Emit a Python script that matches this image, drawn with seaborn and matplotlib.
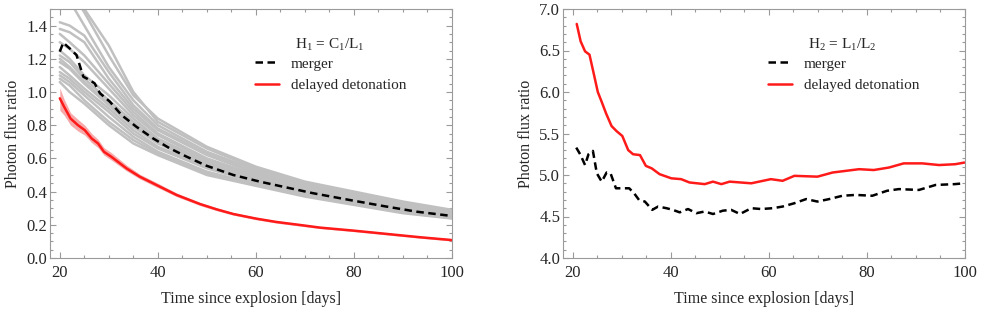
import pandas as pd
import seaborn as sns
from matplotlib import pyplot as plt
from matplotlib.ticker import MultipleLocator

# ---- left panel: H1 = C1/L1 ----
grid_days = [20, 22, 25, 30, 35, 40, 50, 60, 70, 80, 90, 100]
model_curves = [
    [1.75, 1.62, 1.48, 1.22, 0.98, 0.84, 0.67, 0.55, 0.46, 0.40, 0.34, 0.29],
    [1.70, 1.58, 1.50, 1.28, 1.00, 0.82, 0.66, 0.54, 0.45, 0.39, 0.33, 0.285],
    [1.65, 1.55, 1.40, 1.15, 0.95, 0.80, 0.64, 0.53, 0.45, 0.385, 0.33, 0.28],
    [1.42, 1.40, 1.34, 1.12, 0.92, 0.78, 0.63, 0.52, 0.44, 0.38, 0.325, 0.28],
    [1.38, 1.36, 1.30, 1.08, 0.90, 0.77, 0.62, 0.51, 0.43, 0.37, 0.32, 0.275],
    [1.35, 1.30, 1.22, 1.05, 0.88, 0.75, 0.60, 0.50, 0.42, 0.365, 0.315, 0.27],
    [1.30, 1.26, 1.18, 1.02, 0.86, 0.74, 0.59, 0.49, 0.415, 0.36, 0.31, 0.27],
    [1.25, 1.20, 1.10, 0.98, 0.84, 0.72, 0.58, 0.485, 0.41, 0.355, 0.305, 0.265],
    [1.22, 1.18, 1.08, 0.95, 0.82, 0.71, 0.57, 0.48, 0.405, 0.35, 0.30, 0.26],
    [1.18, 1.14, 1.05, 0.92, 0.79, 0.69, 0.56, 0.47, 0.40, 0.345, 0.295, 0.255],
    [1.15, 1.10, 1.02, 0.90, 0.77, 0.67, 0.55, 0.46, 0.39, 0.34, 0.29, 0.25],
    [1.12, 1.08, 1.00, 0.88, 0.75, 0.66, 0.54, 0.455, 0.385, 0.335, 0.285, 0.25],
    [1.10, 1.06, 0.98, 0.85, 0.73, 0.64, 0.52, 0.445, 0.38, 0.33, 0.28, 0.245],
    [1.08, 1.04, 0.95, 0.82, 0.71, 0.63, 0.51, 0.44, 0.375, 0.325, 0.275, 0.24],
    [1.06, 1.00, 0.93, 0.80, 0.69, 0.62, 0.50, 0.435, 0.37, 0.32, 0.27, 0.238],
    [1.20, 1.15, 1.06, 0.93, 0.80, 0.70, 0.565, 0.475, 0.40, 0.35, 0.30, 0.26],
]

merger_h1_days = [20, 20.7, 22, 23.4, 24.8, 26.1, 27.1, 28.2, 30.2, 32.6, 35.6, 39.0,
                  42.4, 45.9, 49.9, 55.4, 60.8, 67, 71.7, 79.2, 86, 92.8, 100]
merger_h1 = [1.243, 1.297, 1.263, 1.223, 1.092, 1.072, 1.052, 0.992, 0.942, 0.861,
             0.791, 0.721, 0.661, 0.61, 0.556, 0.50, 0.46, 0.42, 0.39, 0.349, 0.313,
             0.279, 0.253]

ddt_h1_days = [20, 20.9, 22.2, 23.7, 25.1, 26.5, 27.8, 29.0, 30.5, 33.6, 36.3, 39.7,
               43.8, 48.6, 52, 55.4, 60.1, 64.2, 69, 73.1, 79.9, 86.7, 93.5, 100]
ddt_h1 = [0.962, 0.91, 0.84, 0.80, 0.77, 0.72, 0.69, 0.64, 0.61, 0.54, 0.49, 0.44,
          0.38, 0.325, 0.293, 0.265, 0.237, 0.217, 0.199, 0.183, 0.165, 0.145, 0.125,
          0.108]
ddt_h1_low = [0.89, 0.86, 0.80, 0.765, 0.74, 0.695, 0.665, 0.62, 0.59, 0.525, 0.477,
              0.428, 0.37, 0.316, 0.285, 0.258, 0.23, 0.21, 0.192, 0.177, 0.159,
              0.139, 0.119, 0.102]
ddt_h1_high = [1.025, 0.955, 0.875, 0.835, 0.80, 0.75, 0.715, 0.665, 0.635, 0.56,
               0.505, 0.455, 0.392, 0.335, 0.302, 0.273, 0.245, 0.224, 0.206, 0.19,
               0.172, 0.152, 0.132, 0.116]

# ---- right panel: H2 = L1/L2 ----
merger_h2_days = [20.7, 21.5, 22.5, 23.2, 24.1, 24.9, 25.9, 26.9, 27.7, 28.8, 30.3,
                  31.5, 32.5, 33.5, 34.7, 36.2, 37.4, 39.1, 40.4, 41.8, 43.5, 45.2,
                  46.9, 48.6, 50.6, 52.3, 54.1, 56.4, 58.4, 60.8, 62.8, 65.2, 67.6,
                  69.9, 72.3, 75.0, 77.7, 81.1, 84.1, 86.5, 90.6, 94.0, 97.9, 99.8]
merger_h2 = [5.33, 5.25, 5.12, 5.25, 5.29, 5.02, 4.92, 5.03, 5.02, 4.84, 4.84, 4.84,
             4.78, 4.70, 4.68, 4.58, 4.62, 4.60, 4.58, 4.55, 4.59, 4.54, 4.56, 4.53,
             4.57, 4.58, 4.53, 4.60, 4.59, 4.60, 4.62, 4.66, 4.71, 4.68, 4.71, 4.75,
             4.76, 4.75, 4.81, 4.83, 4.82, 4.88, 4.89, 4.90]

ddt_h2_days = [20.8, 21.6, 22.5, 23.4, 24.2, 25.1, 25.9, 26.8, 27.9, 28.9, 30.1, 31.3,
               32.3, 33.7, 34.9, 36.1, 37.7, 40.1, 42.1, 43.8, 46.9, 48.6, 50.3, 52.0,
               56.4, 60.4, 62.8, 65.2, 69.9, 73.0, 78.4, 81.4, 84.5, 87.5, 91.3, 94.7,
               98.0, 99.9]
ddt_h2 = [6.82, 6.61, 6.49, 6.45, 6.24, 6.00, 5.88, 5.74, 5.59, 5.53, 5.47, 5.30,
          5.25, 5.24, 5.11, 5.08, 5.01, 4.96, 4.95, 4.91, 4.89, 4.92, 4.89, 4.92,
          4.90, 4.95, 4.93, 4.99, 4.98, 5.03, 5.07, 5.06, 5.09, 5.14, 5.14, 5.12,
          5.13, 5.15]

GREY_FRAME = "#9a9a9a"
MERGER_COLOR = "black"
DDT_COLOR = "#ff1a1a"


def style_axes(ax, ylim, ymajor, yminor):
    ax.set_xlim(18, 100)
    ax.set_ylim(*ylim)
    ax.xaxis.set_major_locator(MultipleLocator(20))
    ax.xaxis.set_minor_locator(MultipleLocator(5))
    ax.yaxis.set_major_locator(MultipleLocator(ymajor))
    ax.yaxis.set_minor_locator(MultipleLocator(yminor))
    ax.yaxis.set_major_formatter(plt.FormatStrFormatter("%.1f"))
    ax.tick_params(which="both", direction="in", top=True, right=True,
                   color=GREY_FRAME, width=0.8, labelsize=12)
    ax.tick_params(axis="x", pad=5)
    ax.tick_params(axis="y", pad=2)
    ax.tick_params(which="major", length=4.5)
    ax.tick_params(which="minor", length=2.5)
    for sp in ax.spines.values():
        sp.set_color(GREY_FRAME)
        sp.set_linewidth(0.8)
    ax.set_xlabel("Time since explosion [days]", fontsize=11.5, labelpad=7)
    ax.set_ylabel("Photon flux ratio", fontsize=11.5, labelpad=4)


def main():
    sns.set_style("ticks")
    plt.rcParams["font.family"] = ["Liberation Serif", "DejaVu Serif"]
    plt.rcParams["mathtext.fontset"] = "custom"
    plt.rcParams["mathtext.rm"] = "Liberation Serif"
    plt.rcParams["mathtext.it"] = "Liberation Serif"

    fig = plt.figure(figsize=(9.81, 3.09), dpi=100)
    ax1 = fig.add_axes([50 / 981, 51 / 309, 402 / 981, 249 / 309])
    ax2 = fig.add_axes([563 / 981, 51 / 309, 402 / 981, 249 / 309])

    # left panel
    models = pd.DataFrame(
        [
            {"model": i, "day": d, "ratio": v}
            for i, curve in enumerate(model_curves)
            for d, v in zip(grid_days, curve)
        ]
    )
    sns.lineplot(data=models, x="day", y="ratio", units="model", estimator=None,
                 color="#c0c0c0", lw=1.8, ax=ax1, legend=False)
    ax1.fill_between(ddt_h1_days, ddt_h1_low, ddt_h1_high,
                     color="#f7a0a0", alpha=0.9, lw=0)
    sns.lineplot(x=merger_h1_days, y=merger_h1, color=MERGER_COLOR, lw=1.8,
                 ax=ax1, label="merger").lines[-1].set_dashes((3, 1.8))
    sns.lineplot(x=ddt_h1_days, y=ddt_h1, color=DDT_COLOR, lw=1.8, ax=ax1,
                 label="delayed detonation")
    style_axes(ax1, (0, 1.5), 0.2, 0.05)
    ax1.text(0.609, 0.855, r"H$_1$ = C$_1$/L$_1$", transform=ax1.transAxes,
             fontsize=11, va="center", ha="left")

    # right panel
    sns.lineplot(x=merger_h2_days, y=merger_h2, color=MERGER_COLOR, lw=1.8,
                 ax=ax2, label="merger").lines[-1].set_dashes((3, 1.8))
    sns.lineplot(x=ddt_h2_days, y=ddt_h2, color=DDT_COLOR, lw=1.8, ax=ax2,
                 label="delayed detonation")
    style_axes(ax2, (4.0, 7.0), 0.5, 0.1)
    ax2.text(0.609, 0.855, r"H$_2$ = L$_1$/L$_2$", transform=ax2.transAxes,
             fontsize=11, va="center", ha="left")

    for ax in (ax1, ax2):
        ax.legend(loc="upper left", bbox_to_anchor=(0.483, 0.85), frameon=False,
                  fontsize=11, handlelength=1.6, handletextpad=0.75,
                  borderpad=0.2, labelspacing=0.5)

    fig.savefig("out.png", dpi=100)


if __name__ == "__main__":
    main()
